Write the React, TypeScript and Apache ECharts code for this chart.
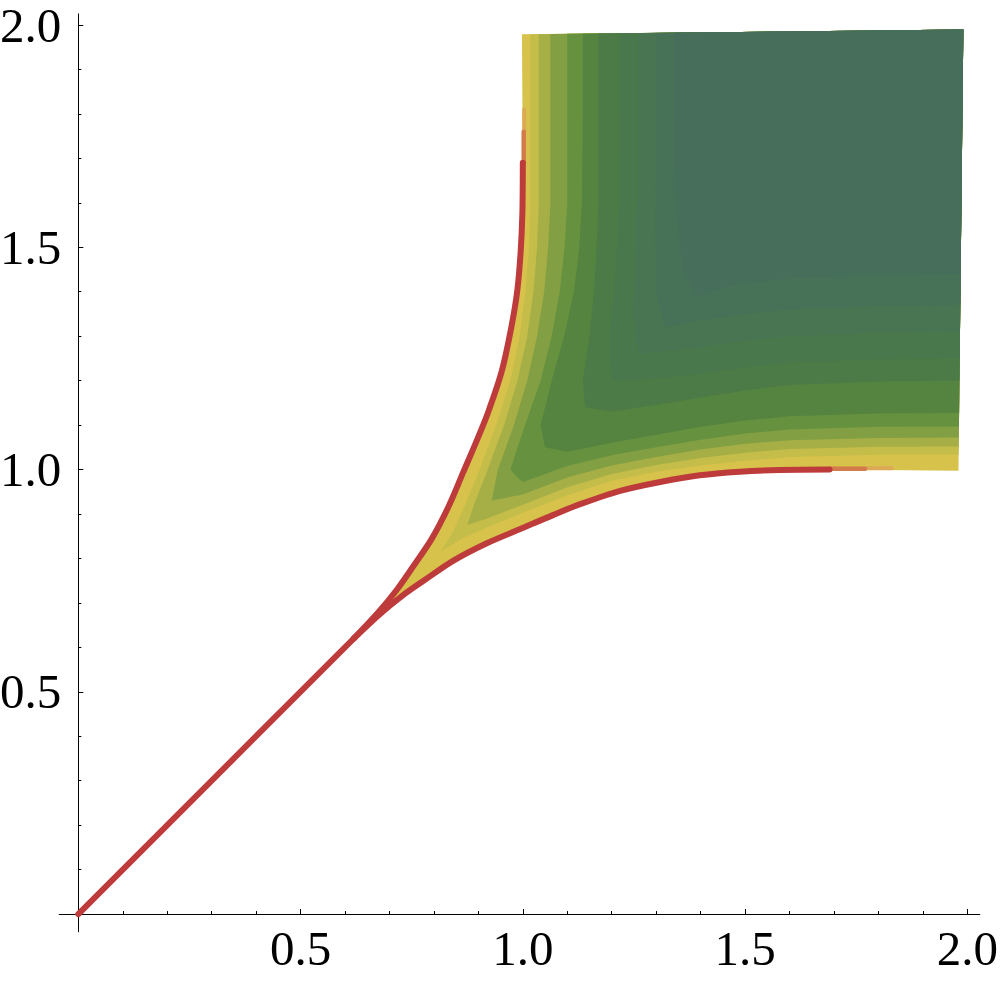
import React, { useEffect, useRef } from "react";
import * as echarts from "echarts";

// ---- axis ticks & labels ----
const X_MAJOR = [0.5, 1.0, 1.5, 2.0];
const X_MINOR = [0.1, 0.2, 0.3, 0.4, 0.6, 0.7, 0.8, 0.9, 1.1, 1.2, 1.3, 1.4, 1.6, 1.7, 1.8, 1.9];
const Y_MAJOR = [0.5, 1.0, 1.5, 2.0];
const Y_MINOR = [0.1, 0.2, 0.3, 0.4, 0.6, 0.7, 0.8, 0.9, 1.1, 1.2, 1.3, 1.4, 1.6, 1.7, 1.8, 1.9];

// ---- red boundary curves ----
const DIAGONAL = [[0, 0], [0.62, 0.62]];
const LOWER_CURVE = [
  [0.62, 0.62], [0.68, 0.676], [0.73, 0.717], [0.78, 0.752], [0.844, 0.795], [0.919, 0.834], [0.994, 0.866],
  [1.069, 0.898], [1.129, 0.922], [1.219, 0.952], [1.309, 0.972], [1.398, 0.987], [1.488, 0.995],
  [1.578, 0.999], [1.69, 1.0],
];
const UPPER_CURVE = [
  [0.62, 0.62], [0.676, 0.68], [0.717, 0.73], [0.752, 0.78], [0.795, 0.844], [0.834, 0.919], [0.866, 0.994],
  [0.898, 1.069], [0.922, 1.129], [0.952, 1.219], [0.972, 1.309], [0.987, 1.398], [0.995, 1.488],
  [0.999, 1.578], [1.0, 1.69],
];
const LOWER_TAIL_A = [[1.69, 1.002], [1.77, 1.002]];
const LOWER_TAIL_B = [[1.77, 1.003], [1.83, 1.003]];
const UPPER_TAIL_A = [[1.002, 1.69], [1.002, 1.76]];
const UPPER_TAIL_B = [[1.003, 1.76], [1.003, 1.81]];

// ---- filled region corners ----
const TOP_LEFT = [0.998, 1.979];
const TOP_RIGHT = [1.991, 1.99];
const BOTTOM_RIGHT = [1.98, 0.997];

// ---- colour band contours (lower half: right edge -> diagonal; upper half: diagonal -> top edge) ----
const C1_LOW = [[1.9804, 1.034], [1.8, 1.033], [1.6, 1.028], [1.5, 1.02], [1.4, 1.009], [1.3, 0.995], [1.2, 0.975], [1.1, 0.942], [1.0, 0.903], [0.92, 0.87], [0.86, 0.843]];
const C1_UP = [[0.815, 0.815], [0.843, 0.86], [0.87, 0.92], [0.903, 1.0], [0.94, 1.1], [0.972, 1.2], [0.993, 1.3], [1.006, 1.4], [1.014, 1.5], [1.017, 1.6], [1.017, 1.8], [1.017, 1.9792]];
const C2_LOW = [[1.9806, 1.052], [1.8, 1.051], [1.6, 1.046], [1.5, 1.038], [1.4, 1.026], [1.3, 1.01], [1.2, 0.99], [1.1, 0.96], [1.0, 0.921], [0.92, 0.89]];
const C2_UP = [[0.875, 0.875], [0.89, 0.92], [0.921, 1.0], [0.958, 1.1], [0.988, 1.2], [1.01, 1.3], [1.024, 1.4], [1.032, 1.5], [1.036, 1.6], [1.036, 1.8], [1.036, 1.9794]];
const C3_LOW = [[1.9808, 1.072], [1.8, 1.071], [1.6, 1.066], [1.5, 1.058], [1.4, 1.045], [1.3, 1.028], [1.2, 1.009], [1.1, 0.982], [1.0, 0.944]];
const C3_UP = [[0.93, 0.93], [0.944, 1.0], [0.98, 1.1], [1.01, 1.2], [1.032, 1.3], [1.048, 1.4], [1.057, 1.5], [1.062, 1.6], [1.062, 1.8], [1.062, 1.9797]];
const C4_LOW = [[1.9811, 1.097], [1.8, 1.096], [1.6, 1.09], [1.5, 1.081], [1.4, 1.067], [1.3, 1.05], [1.2, 1.032], [1.1, 1.008], [1.0, 0.972]];
const C4_UP = [[0.985, 0.985], [0.972, 1.0], [1.005, 1.1], [1.04, 1.2], [1.065, 1.3], [1.083, 1.4], [1.094, 1.5], [1.1, 1.6], [1.1, 1.8], [1.1, 1.9801]];
const C5_LOW = [[1.9814, 1.127], [1.8, 1.126], [1.6, 1.12], [1.5, 1.11], [1.4, 1.096], [1.3, 1.078], [1.2, 1.06], [1.1, 1.04]];
const C5_UP = [[1.05, 1.05], [1.04, 1.1], [1.065, 1.2], [1.093, 1.3], [1.115, 1.4], [1.127, 1.5], [1.133, 1.6], [1.135, 1.8], [1.135, 1.9805]];
const C6_LOW = [[1.9823, 1.2], [1.8, 1.198], [1.6, 1.19], [1.5, 1.178], [1.4, 1.162], [1.3, 1.145], [1.2, 1.13]];
const C6_UP = [[1.14, 1.14], [1.135, 1.2], [1.15, 1.3], [1.16, 1.4], [1.166, 1.5], [1.17, 1.6], [1.17, 1.8], [1.17, 1.9809]];
const C7_LOW = [[1.9828, 1.25], [1.8, 1.248], [1.6, 1.24], [1.5, 1.23], [1.4, 1.215], [1.3, 1.205]];
const C7_UP = [[1.2, 1.2], [1.195, 1.3], [1.205, 1.4], [1.212, 1.5], [1.217, 1.6], [1.22, 1.8], [1.22, 1.9814]];
const C8_LOW = [[1.9834, 1.31], [1.8, 1.308], [1.6, 1.3], [1.5, 1.29], [1.4, 1.275], [1.3, 1.265]];
const C8_UP = [[1.26, 1.26], [1.25, 1.35], [1.255, 1.5], [1.26, 1.7], [1.26, 1.9819]];
const C9_LOW = [[1.9842, 1.37], [1.8, 1.368], [1.6, 1.36], [1.5, 1.35], [1.4, 1.335]];
const C9_UP = [[1.32, 1.32], [1.3, 1.4], [1.298, 1.55], [1.3, 1.75], [1.3, 1.9823]];
const C10_LOW = [[1.9849, 1.44], [1.8, 1.438], [1.6, 1.43], [1.5, 1.42], [1.45, 1.41]];
const C10_UP = [[1.39, 1.39], [1.36, 1.45], [1.345, 1.6], [1.34, 1.8], [1.34, 1.9828]];

const BAND_COLORS = [
  "#d7c24b", "#c4bd4a", "#a5af46", "#839f44", "#66913f", "#558441",
  "#4c7b47", "#4a784d", "#497552", "#477257", "#466e5b",
];

const RED = "#be3b3c";

export default function App() {
  const ref = useRef<HTMLDivElement>(null);
  useEffect(() => {
    if (!ref.current) return;
    const chart = echarts.init(ref.current, null, { renderer: "svg" });

    const region = [TOP_LEFT, ...UPPER_CURVE.slice().reverse(), ...LOWER_CURVE.slice(1), BOTTOM_RIGHT, TOP_RIGHT];
    const polys = [
      region,
      [...C1_LOW, ...C1_UP, TOP_RIGHT],
      [...C2_LOW, ...C2_UP, TOP_RIGHT],
      [...C3_LOW, ...C3_UP, TOP_RIGHT],
      [...C4_LOW, ...C4_UP, TOP_RIGHT],
      [...C5_LOW, ...C5_UP, TOP_RIGHT],
      [...C6_LOW, ...C6_UP, TOP_RIGHT],
      [...C7_LOW, ...C7_UP, TOP_RIGHT],
      [...C8_LOW, ...C8_UP, TOP_RIGHT],
      [...C9_LOW, ...C9_UP, TOP_RIGHT],
      [...C10_LOW, ...C10_UP, TOP_RIGHT],
    ];

    const font = "'Liberation Serif', 'Times New Roman', serif";
    const xMin = -0.043, xMax = 2.028, yMin = -0.04, yMax = 2.025;

    const lineSeries = (data: number[][], color: string, width: number, smooth = 0) => ({
      type: "line",
      data,
      showSymbol: false,
      symbol: "none",
      silent: true,
      smooth,
      z: 5,
      lineStyle: { color, width, cap: "round", join: "round" },
    });

    chart.setOption({
      animation: false,
      backgroundColor: "#ffffff",
      grid: { left: 59.19, top: 13.9, width: 920.6, height: 917.9, containLabel: false, outerBoundsMode: "none" },
      xAxis: [
        {
          type: "value", min: xMin, max: xMax, position: "bottom",
          axisLine: { show: true, onZero: true, lineStyle: { color: "#000", width: 1 } },
          axisTick: { show: true, inside: true, length: 5, customValues: X_MAJOR, lineStyle: { color: "#000", width: 1 } },
          axisLabel: { customValues: X_MAJOR, formatter: (v: number) => v.toFixed(1), color: "#000", fontFamily: font, fontSize: 49, margin: -7.8 },
          splitLine: { show: false },
        },
        {
          type: "value", min: xMin, max: xMax, position: "bottom",
          axisLine: { show: false, onZero: true, onZeroAxisIndex: 0 },
          axisTick: { show: true, inside: true, length: 3, customValues: X_MINOR, lineStyle: { color: "#000", width: 1 } },
          axisLabel: { show: false },
          splitLine: { show: false },
        },
      ],
      yAxis: [
        {
          type: "value", min: yMin, max: yMax, position: "left",
          axisLine: { show: true, onZero: true, lineStyle: { color: "#000", width: 1 } },
          axisTick: { show: true, inside: true, length: 5, customValues: Y_MAJOR, lineStyle: { color: "#000", width: 1 } },
          axisLabel: {
            customValues: Y_MAJOR, formatter: (v: number) => v.toFixed(1), color: "#000", fontFamily: font,
            fontSize: 49, lineHeight: 39, margin: -2.1, padding: [0, 0, 10, 0],
          },
          splitLine: { show: false },
        },
        {
          type: "value", min: yMin, max: yMax, position: "left",
          axisLine: { show: false, onZero: true, onZeroAxisIndex: 0 },
          axisTick: { show: true, inside: true, length: 3, customValues: Y_MINOR, lineStyle: { color: "#000", width: 1 } },
          axisLabel: { show: false },
          splitLine: { show: false },
        },
      ],
      series: [
        {
          type: "custom",
          silent: true,
          z: 2,
          clip: false,
          data: polys.map((_, i) => [i, i]),
          renderItem: (params: any, api: any) => {
            const pts = polys[params.dataIndex].map((p) => api.coord(p));
            return {
              type: "polygon",
              shape: { points: pts },
              style: { fill: BAND_COLORS[params.dataIndex] },
            };
          },
        },
        lineSeries(LOWER_TAIL_B, "#dcaa55", 4),
        lineSeries(UPPER_TAIL_B, "#dcaa55", 4),
        lineSeries(LOWER_TAIL_A, "#d47b4c", 4.5),
        lineSeries(UPPER_TAIL_A, "#d47b4c", 4.5),
        lineSeries(DIAGONAL, RED, 6),
        lineSeries(LOWER_CURVE, RED, 6, 0.3),
        lineSeries(UPPER_CURVE, RED, 6, 0.3),
      ],
    });
    return () => chart.dispose();
  }, []);
  return <div ref={ref} style={{ position: "absolute", left: 0, top: 0, width: 1000, height: 981 }} />;
}
